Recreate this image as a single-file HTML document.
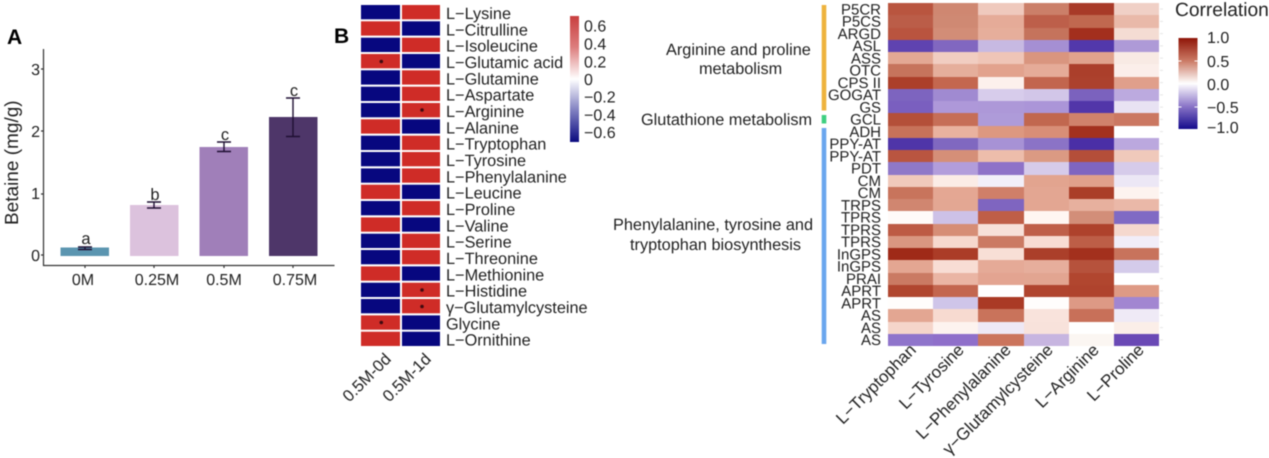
<!DOCTYPE html>
<html><head><meta charset="utf-8"><style>
html,body{margin:0;padding:0;background:#fff;width:1269px;height:458px;overflow:hidden}
#w{position:relative;width:1269px;height:458px;filter:blur(.45px)}
svg{position:absolute;left:0;top:0}
text{font-family:"Liberation Sans",sans-serif;fill:#222;text-rendering:geometricPrecision}
.r{fill:#cf2c27}.b{fill:#07077f}
#h{position:absolute;left:888px;top:3px;width:271px;height:343px;display:grid;grid-template-columns:repeat(6,1fr);grid-template-rows:repeat(28,1fr)}
</style></head><body><div id="w">
<svg width="1269" height="458" viewBox="0 0 1269 458">
<defs>
<linearGradient id="g1" x1="0" y1="0" x2="0" y2="1"><stop offset="0" stop-color="#c93f3f"/><stop offset=".25" stop-color="#dd7f7f"/><stop offset=".5" stop-color="#fff"/><stop offset=".75" stop-color="#7f7fc0"/><stop offset="1" stop-color="#0a0a80"/></linearGradient>
<linearGradient id="g2" x1="0" y1="0" x2="0" y2="1"><stop offset="0" stop-color="#8f1508"/><stop offset=".25" stop-color="#cb7a65"/><stop offset=".5" stop-color="#fff"/><stop offset=".75" stop-color="#8b76c8"/><stop offset="1" stop-color="#140a8c"/></linearGradient>
</defs>
<text x="7" y="44" font-size="21" font-weight="700" style="fill:#000">A</text>
<text x="334" y="43" font-size="21" font-weight="700" style="fill:#000">B</text>
<path d="M43.5 49V265.5H334.5" fill="none" stroke="#333" stroke-width="1.2"/>
<path d="M41 69h2M41 131h2M41 194h2M41 255h2M85 265v3M154 265v3M224 265v3M293 265v3" stroke="#333" stroke-width="1.2"/>
<g font-size="16" text-anchor="end"><text x="40" y="75">3</text><text x="40" y="137">2</text><text x="40" y="199">1</text><text x="40" y="261">0</text></g>
<text transform="translate(18 225) rotate(-90)" font-size="19">Betaine (mg/g)</text>
<rect x="60.5" y="247.5" width="48.5" height="8.5" fill="#5b95b0"/>
<rect x="130" y="205" width="48.5" height="51" fill="#dcc2dd"/>
<rect x="199.5" y="147" width="48.5" height="109" fill="#a07fb9"/>
<rect x="269" y="117" width="48.5" height="139" fill="#4e3669"/>
<path d="M85 247v2.5M78 247h14M78 249.5h14M154 202v6M147 202h14M147 208h14M224 142v9.5M217 142h14M217 151.5h14M293 98v38M286 98h14M286 136.5h14" stroke="#1f0f33" stroke-width="1.4" fill="none"/>
<g font-size="16.500" text-anchor="middle">
<text x="86" y="244">a</text><text x="155" y="200">b</text><text x="225" y="140">c</text><text x="294" y="96">c</text>
</g>
<g font-size="16" text-anchor="middle">
<text x="83" y="285">0M</text><text x="157" y="285">0.25M</text><text x="224" y="285">0.5M</text><text x="295" y="285">0.75M</text>
</g>
<g>
<rect class="b" x="361" y="5" width="39" height="14.3"/><rect class="r" x="402" y="5" width="38" height="14.3"/>
<rect class="r" x="361" y="21.3" width="39" height="14.3"/><rect class="b" x="402" y="21.3" width="38" height="14.3"/>
<rect class="b" x="361" y="37.7" width="39" height="14.3"/><rect class="r" x="402" y="37.7" width="38" height="14.3"/>
<rect class="r" x="361" y="54" width="39" height="14.3"/><rect class="b" x="402" y="54" width="38" height="14.3"/>
<rect class="b" x="361" y="70.3" width="39" height="14.3"/><rect class="r" x="402" y="70.3" width="38" height="14.3"/>
<rect class="b" x="361" y="86.7" width="39" height="14.3"/><rect class="r" x="402" y="86.7" width="38" height="14.3"/>
<rect class="b" x="361" y="103" width="39" height="14.3"/><rect class="r" x="402" y="103" width="38" height="14.3"/>
<rect class="r" x="361" y="119.3" width="39" height="14.3"/><rect class="b" x="402" y="119.3" width="38" height="14.3"/>
<rect class="b" x="361" y="135.7" width="39" height="14.3"/><rect class="r" x="402" y="135.7" width="38" height="14.3"/>
<rect class="b" x="361" y="152" width="39" height="14.3"/><rect class="r" x="402" y="152" width="38" height="14.3"/>
<rect class="b" x="361" y="168.4" width="39" height="14.3"/><rect class="r" x="402" y="168.4" width="38" height="14.3"/>
<rect class="r" x="361" y="184.7" width="39" height="14.3"/><rect class="b" x="402" y="184.7" width="38" height="14.3"/>
<rect class="b" x="361" y="201" width="39" height="14.3"/><rect class="r" x="402" y="201" width="38" height="14.3"/>
<rect class="r" x="361" y="217.4" width="39" height="14.3"/><rect class="b" x="402" y="217.4" width="38" height="14.3"/>
<rect class="b" x="361" y="233.7" width="39" height="14.3"/><rect class="r" x="402" y="233.7" width="38" height="14.3"/>
<rect class="b" x="361" y="250" width="39" height="14.3"/><rect class="r" x="402" y="250" width="38" height="14.3"/>
<rect class="r" x="361" y="266.4" width="39" height="14.3"/><rect class="b" x="402" y="266.4" width="38" height="14.3"/>
<rect class="b" x="361" y="282.7" width="39" height="14.3"/><rect class="r" x="402" y="282.7" width="38" height="14.3"/>
<rect class="b" x="361" y="299" width="39" height="14.3"/><rect class="r" x="402" y="299" width="38" height="14.3"/>
<rect class="r" x="361" y="315.4" width="39" height="14.3"/><rect class="b" x="402" y="315.4" width="38" height="14.3"/>
<rect class="r" x="361" y="331.7" width="39" height="14.3"/><rect class="b" x="402" y="331.7" width="38" height="14.3"/>
</g>
<g fill="#400a10"><circle cx="381.3" cy="61.500" r="1.8"/><circle cx="422" cy="110" r="1.8"/><circle cx="422" cy="290" r="1.8"/><circle cx="422" cy="306.5" r="1.8"/><circle cx="381.3" cy="322.5" r="1.8"/></g>
<g font-size="16.300">
<text x="446" y="19">L−Lysine</text><text x="446" y="35.300">L−Citrulline</text><text x="446" y="51.500">L−Isoleucine</text><text x="446" y="68">L−Glutamic acid</text><text x="446" y="84.300">L−Glutamine</text><text x="446" y="100.500">L−Aspartate</text><text x="446" y="117">L−Arginine</text><text x="446" y="133.300">L−Alanine</text><text x="446" y="149.500">L−Tryptophan</text><text x="446" y="166">L−Tyrosine</text><text x="446" y="182.300">L−Phenylalanine</text><text x="446" y="198.500">L−Leucine</text><text x="446" y="215">L−Proline</text><text x="446" y="231.300">L−Valine</text><text x="446" y="247.500">L−Serine</text><text x="446" y="264">L−Threonine</text><text x="446" y="280.300">L−Methionine</text><text x="446" y="296.500">L−Histidine</text><text x="446" y="313">γ−Glutamylcysteine</text><text x="446" y="329.300">Glycine</text><text x="446" y="345.500">L−Ornithine</text>
</g>
<g font-size="16.500" text-anchor="end">
<text transform="translate(392 360) rotate(-45)">0.5M-0d</text>
<text transform="translate(432 360) rotate(-45)">0.5M-1d</text>
</g>
<rect x="570" y="16" width="9" height="126" fill="url(#g1)"/>
<g font-size="16">
<text x="584" y="31.500">0.6</text><text x="584" y="49.500">0.4</text><text x="584" y="67.500">0.2</text><text x="584" y="85">0</text><text x="584" y="102.500">−0.2</text><text x="584" y="120.500">−0.4</text><text x="584" y="138">−0.6</text>
</g>
<g font-size="16.300">
<text x="666" y="55">Arginine and proline</text>
<text x="699" y="74">metabolism</text>
<text x="641" y="125">Glutathione metabolism</text>
<text x="613" y="230">Phenylalanine, tyrosine and</text>
<text x="630" y="250">tryptophan biosynthesis</text>
</g>
<rect x="821.7" y="5" width="4.6" height="105.5" fill="#eeb33d"/>
<rect x="821.7" y="115" width="4.6" height="8.5" fill="#3ecf80"/>
<rect x="821.7" y="128" width="4.6" height="216" fill="#6aa6ee"/>
<g font-size="15" text-anchor="end">
<text x="881" y="14.300">P5CR</text><text x="881" y="26.600">P5CS</text><text x="881" y="38.800">ARGD</text><text x="881" y="51.100">ASL</text><text x="881" y="63.300">ASS</text><text x="881" y="75.600">OTC</text><text x="881" y="87.800">CPS II</text><text x="881" y="100.100">GOGAT</text><text x="881" y="112.300">GS</text><text x="881" y="124.600">GCL</text><text x="881" y="136.800">ADH</text><text x="881" y="149.100">PPY-AT</text><text x="881" y="161.300">PPY-AT</text><text x="881" y="173.600">PDT</text><text x="881" y="185.800">CM</text><text x="881" y="198.100">CM</text><text x="881" y="210.300">TRPS</text><text x="881" y="222.600">TPRS</text><text x="881" y="234.800">TPRS</text><text x="881" y="247.100">TPRS</text><text x="881" y="259.300">InGPS</text><text x="881" y="271.600">InGPS</text><text x="881" y="283.800">PRAI</text><text x="881" y="296.100">APRT</text><text x="881" y="308.300">APRT</text><text x="881" y="320.600">AS</text><text x="881" y="332.800">AS</text><text x="881" y="345.100">AS</text>
</g>
<g font-size="17" text-anchor="end">
<text transform="translate(917 351) rotate(-45)">L−Tryptophan</text>
<text transform="translate(965 351) rotate(-45)">L−Tyrosine</text>
<text transform="translate(1012 351) rotate(-45)">L−Phenylalanine</text>
<text transform="translate(1054 351) rotate(-45)">γ−Glutamylcysteine</text>
<text transform="translate(1100 351) rotate(-45)">L−Arginine</text>
<text transform="translate(1145 351) rotate(-45)">L−Proline</text>
</g>
<text x="1175" y="16" font-size="19.200">Correlation</text>
<rect x="1178.5" y="38" width="19" height="91" fill="url(#g2)"/>
<path d="M1178.5 61h3M1194.500 61h3M1178.5 84h3M1194.500 84h3M1178.5 107h3M1194.500 107h3" stroke="#fff" stroke-width="1"/>
<path d="M1160 9h3M1160 21.400h3M1160 33.600h3M1160 45.900h3M1160 58.100h3M1160 70.400h3M1160 82.600h3M1160 94.900h3M1160 107.100h3M1160 119.400h3M1160 131.600h3M1160 143.900h3M1160 156.100h3M1160 168.400h3M1160 180.600h3M1160 192.900h3M1160 205.100h3M1160 217.400h3M1160 229.600h3M1160 241.900h3M1160 254.100h3M1160 266.400h3M1160 278.600h3M1160 290.900h3M1160 303.100h3M1160 315.400h3M1160 327.600h3M1160 339.900h3" stroke="#e6e6e6" stroke-width="1"/>
<g font-size="16">
<text x="1207" y="43">1.0</text><text x="1207" y="67">0.5</text><text x="1207" y="90">0.0</text><text x="1207" y="113">−0.5</text><text x="1207" y="133">−1.0</text>
</g>
</svg>
<div id="h">
<i style="background:#b9553f"></i><i style="background:#cf8771"></i><i style="background:#efc9bd"></i><i style="background:#cb7f69"></i><i style="background:#a83a28"></i><i style="background:#f0d0c6"></i>
<i style="background:#bb5d48"></i><i style="background:#cf8973"></i><i style="background:#e5ab98"></i><i style="background:#bd5f4a"></i><i style="background:#c0684f"></i><i style="background:#e9b9a9"></i>
<i style="background:#b9543f"></i><i style="background:#d28d77"></i><i style="background:#e6ae9b"></i><i style="background:#c5735c"></i><i style="background:#a32f1d"></i><i style="background:#f4dcd3"></i>
<i style="background:#5f43b0"></i><i style="background:#8167c0"></i><i style="background:#c7b9e2"></i><i style="background:#a58fd3"></i><i style="background:#5238ab"></i><i style="background:#ae9ad7"></i>
<i style="background:#e3a894"></i><i style="background:#f1cdc1"></i><i style="background:#efc5b7"></i><i style="background:#d9957f"></i><i style="background:#e0a28d"></i><i style="background:#f8eae4"></i>
<i style="background:#c6745c"></i><i style="background:#e5ae9b"></i><i style="background:#e2a28d"></i><i style="background:#e5ab98"></i><i style="background:#ab3f2b"></i><i style="background:#fbeeea"></i>
<i style="background:#ac3f29"></i><i style="background:#c4674f"></i><i style="background:#fcf0ec"></i><i style="background:#c2654e"></i><i style="background:#ac412d"></i><i style="background:#e09f8b"></i>
<i style="background:#7d64bf"></i><i style="background:#a08ad1"></i><i style="background:#d7cceb"></i><i style="background:#d2c6e8"></i><i style="background:#7b62be"></i><i style="background:#bcaadf"></i>
<i style="background:#7a5fbf"></i><i style="background:#ae98d9"></i><i style="background:#ad98d8"></i><i style="background:#ab95d8"></i><i style="background:#5236a9"></i><i style="background:#e8e2f3"></i>
<i style="background:#b44f39"></i><i style="background:#c66e57"></i><i style="background:#ae9bd9"></i><i style="background:#c1674f"></i><i style="background:#d0826b"></i><i style="background:#cb7862"></i>
<i style="background:#c7725a"></i><i style="background:#e9b29f"></i><i style="background:#dd9880"></i><i style="background:#d88e77"></i><i style="background:#a3311e"></i><i style="background:#ffffff"></i>
<i style="background:#4f35a8"></i><i style="background:#8068c0"></i><i style="background:#a792d5"></i><i style="background:#8b73c6"></i><i style="background:#4a2fa6"></i><i style="background:#bba8de"></i>
<i style="background:#b95540"></i><i style="background:#d58f78"></i><i style="background:#edbdab"></i><i style="background:#db9a83"></i><i style="background:#b44e39"></i><i style="background:#f0c9bb"></i>
<i style="background:#8f78c8"></i><i style="background:#b29ddb"></i><i style="background:#8e72c8"></i><i style="background:#d6cbea"></i><i style="background:#7f65c0"></i><i style="background:#d6cbea"></i>
<i style="background:#f0c9bb"></i><i style="background:#fbece6"></i><i style="background:#f2eff9"></i><i style="background:#e2a48f"></i><i style="background:#e0a08b"></i><i style="background:#ece7f5"></i>
<i style="background:#c8745c"></i><i style="background:#e4a793"></i><i style="background:#cf7f69"></i><i style="background:#e3a692"></i><i style="background:#aa3e28"></i><i style="background:#fdf3ef"></i>
<i style="background:#d08670"></i><i style="background:#e3a793"></i><i style="background:#7f65c0"></i><i style="background:#e3a692"></i><i style="background:#e7b09e"></i><i style="background:#eab8a8"></i>
<i style="background:#fffaf8"></i><i style="background:#cdc1e7"></i><i style="background:#bf5e47"></i><i style="background:#fff6f2"></i><i style="background:#d28e79"></i><i style="background:#806ac4"></i>
<i style="background:#bd5a44"></i><i style="background:#d68d76"></i><i style="background:#f7e0d8"></i><i style="background:#bf5f49"></i><i style="background:#ae422c"></i><i style="background:#f5d8ce"></i>
<i style="background:#d99681"></i><i style="background:#f6d8ce"></i><i style="background:#cb7a63"></i><i style="background:#f8dcd3"></i><i style="background:#bd5e47"></i><i style="background:#f1edf8"></i>
<i style="background:#9f2a18"></i><i style="background:#ab3c27"></i><i style="background:#f8dfd6"></i><i style="background:#ab3f2a"></i><i style="background:#a3301d"></i><i style="background:#c8735c"></i>
<i style="background:#e3a692"></i><i style="background:#f8ddd4"></i><i style="background:#e5aa97"></i><i style="background:#e6ae9c"></i><i style="background:#b6523c"></i><i style="background:#d4cbea"></i>
<i style="background:#ca7a63"></i><i style="background:#eab5a4"></i><i style="background:#e3a491"></i><i style="background:#e2a591"></i><i style="background:#b1462f"></i><i style="background:#ffffff"></i>
<i style="background:#b0462f"></i><i style="background:#c3664f"></i><i style="background:#ffffff"></i><i style="background:#b0452f"></i><i style="background:#af432d"></i><i style="background:#de9a85"></i>
<i style="background:#fffdfc"></i><i style="background:#cfc5e9"></i><i style="background:#aa3a25"></i><i style="background:#fffdfc"></i><i style="background:#dd9985"></i><i style="background:#a286d1"></i>
<i style="background:#e3a692"></i><i style="background:#f7dad0"></i><i style="background:#c9735b"></i><i style="background:#f9e3dc"></i><i style="background:#c87059"></i><i style="background:#efeaf6"></i>
<i style="background:#f5d5ca"></i><i style="background:#fdf3ef"></i><i style="background:#eee8f5"></i><i style="background:#f8e2db"></i><i style="background:#ffffff"></i><i style="background:#fbeee8"></i>
<i style="background:#8f74cb"></i><i style="background:#8f6fca"></i><i style="background:#cb745c"></i><i style="background:#c7b5e0"></i><i style="background:#fbf6f2"></i><i style="background:#6a49b5"></i>
</div>
</div></body></html>
